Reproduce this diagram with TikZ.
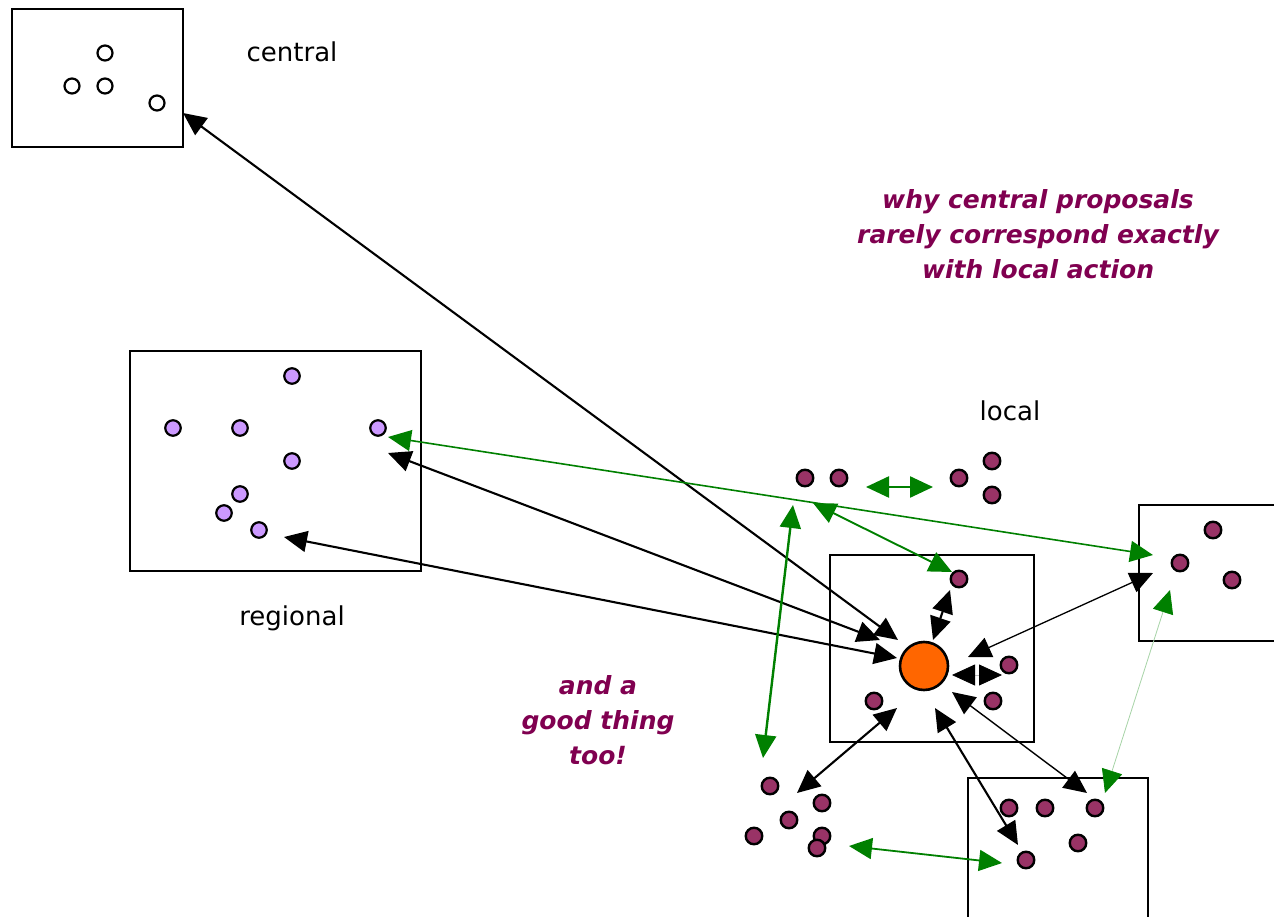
\documentclass[tikz,border=0pt]{standalone}
\usepackage{fontspec}
\setmainfont{DejaVu Sans}
\usetikzlibrary{arrows.meta}

\definecolor{lilac}{RGB}{204,153,255}
\definecolor{plum}{RGB}{153,51,102}
\definecolor{hubfill}{RGB}{255,102,0}
\definecolor{wine}{RGB}{128,0,80}
\definecolor{leaf}{RGB}{0,128,0}

\tikzset{
	box/.style={draw, line width=2.6pt, inner sep=0pt},
	hollow/.style={circle, draw, line width=2.2pt, minimum size=15pt, inner sep=0pt, fill=white},
	lilacdot/.style={hollow, minimum size=15.5pt, fill=lilac},
	plumdot/.style={circle, draw, line width=2.4pt, minimum size=16.5pt, inner sep=0pt, fill=plum},
	level/.style={font=\fontsize{26}{31}\selectfont, anchor=base},
	remark/.style={font=\fontsize{25}{35}\selectfont\bfseries\itshape, text=wine, align=center},
	link/.style={<->, line width=2.1pt},
	glink/.style={<->, line width=2.1pt, leaf}
}

\begin{document}
\begin{tikzpicture}[x=1pt, y=-1pt, >={Triangle[length=23pt,width=21pt]}]
	\useasboundingbox (0,0) rectangle (1274,917);

	% the boxes
	\node[box, minimum width=171pt, minimum height=138pt] (cbox) at (97.5,78) {};
	\node[box, minimum width=291pt, minimum height=220pt] (rbox) at (275.5,461) {};
	\node[box, minimum width=204pt, minimum height=187pt] (hbox) at (932,648.5) {};
	\node[box, minimum width=152pt, minimum height=136pt] (ebox) at (1215,573) {};
	\node[box, minimum width=180pt, minimum height=152pt] (bbox) at (1058,854) {};

	\node[level] (central) at (292,62) {central};
	\node[level] (regional) at (292,625) {regional};
	\node[level] (local) at (1010,420) {local};

	\node[remark] (why) at (1038,234) {why central proposals\\rarely correspond exactly\\with local action};
	\node[remark] (good) at (598,720) {and a\\good thing\\too!};

	% arrow ends
	\coordinate (hA) at (898,640);
	\coordinate (hB) at (880,640);
	\coordinate (hC) at (897,658);
	\coordinate (hD) at (933,640);
	\coordinate (hE) at (968,657);
	\coordinate (hF) at (952,675);
	\coordinate (hG) at (952,692);
	\coordinate (hH) at (935,708);
	\coordinate (hI) at (897,708);

	\coordinate (cin) at (183,113);
	\coordinate (rA) at (388,453);
	\coordinate (rB) at (284,537);
	\coordinate (rC) at (388,437);
	\coordinate (mA) at (950,590);
	\coordinate (mB) at (952,572);
	\coordinate (mC) at (1002,675);
	\coordinate (eA) at (1153,573);
	\coordinate (eB) at (1153,555);
	\coordinate (eC) at (1170,590);
	\coordinate (bA) at (1087,793);
	\coordinate (bB) at (1018,845);
	\coordinate (bC) at (1105,793);
	\coordinate (bD) at (1002,863);
	\coordinate (lA) at (797,793);
	\coordinate (lB) at (763,758);
	\coordinate (lC) at (849,846);
	\coordinate (tA) at (813,503);
	\coordinate (tB) at (793,505);
	\coordinate (tL) at (866,487);
	\coordinate (tR) at (933,487);

	% black links to the hub
	\draw [link] (hA) -- (cin);
	\draw [link] (hB) -- (rA);
	\draw [link] (hC) -- (rB);
	\draw [link] (hD) -- (mA);
	\draw [link, line width=1.3pt] (hE) -- (eA);
	\draw [line width=.8pt, gray!50, {Triangle[length=23pt,width=21pt,black]}-{Triangle[length=23pt,width=21pt,black]}] (hF) -- (mC);
	\draw [link, line width=1.4pt] (hG) -- (bA);
	\draw [link] (hH) -- (bB);
	\draw [link] (hI) -- (lA);

	% green links between the locals
	\draw [glink, line width=1.6pt] (rC) -- (eB);
	\draw [glink, line width=1.9pt] (tA) -- (mB);
	\draw [glink, line width=2.4pt] (tB) -- (lB);
	\draw [glink, line width=2.4pt] (tL) -- (tR);
	\draw [line width=.8pt, leaf!35, {Triangle[length=23pt,width=21pt,leaf]}-{Triangle[length=23pt,width=21pt,leaf]}] (eC) -- (bC);
	\draw [glink, line width=1.8pt] (lC) -- (bD);

	% central
	\node[hollow] (c1) at (105,53) {};
	\node[hollow] (c2) at (72,86) {};
	\node[hollow] (c3) at (105,86) {};
	\node[hollow] (c4) at (157,103) {};

	% regional
	\node[lilacdot] (r1) at (173,428) {};
	\node[lilacdot] (r2) at (240,428) {};
	\node[lilacdot] (r3) at (292,376) {};
	\node[lilacdot] (r4) at (378,428) {};
	\node[lilacdot] (r5) at (292,461) {};
	\node[lilacdot] (r6) at (240,494) {};
	\node[lilacdot] (r7) at (224,513) {};
	\node[lilacdot] (r8) at (259,530) {};

	% local
	\node[plumdot] (t1) at (805,478) {};
	\node[plumdot] (t2) at (839,478) {};
	\node[plumdot] (t3) at (959,478) {};
	\node[plumdot] (t4) at (992,461) {};
	\node[plumdot] (t5) at (992,495) {};

	\node[circle, draw, line width=2.6pt, minimum size=48pt, inner sep=0pt, fill=hubfill] (hub) at (924,666) {};
	\node[plumdot] (m1) at (959,579) {};
	\node[plumdot] (m2) at (1009,665) {};
	\node[plumdot] (m3) at (993,701) {};
	\node[plumdot] (m4) at (874,701) {};

	\node[plumdot] (e1) at (1213,530) {};
	\node[plumdot] (e2) at (1180,563) {};
	\node[plumdot] (e3) at (1232,580) {};

	\node[plumdot] (b1) at (1009,808) {};
	\node[plumdot] (b2) at (1045,808) {};
	\node[plumdot] (b3) at (1095,808) {};
	\node[plumdot] (b4) at (1078,843) {};
	\node[plumdot] (b5) at (1026,860) {};

	\node[plumdot] (l1) at (770,786) {};
	\node[plumdot] (l2) at (822,803) {};
	\node[plumdot] (l3) at (789,820) {};
	\node[plumdot] (l4) at (754,836) {};
	\node[plumdot] (l5) at (822,836) {};
	\node[plumdot] (l6) at (817,848) {};
\end{tikzpicture}
\end{document}
